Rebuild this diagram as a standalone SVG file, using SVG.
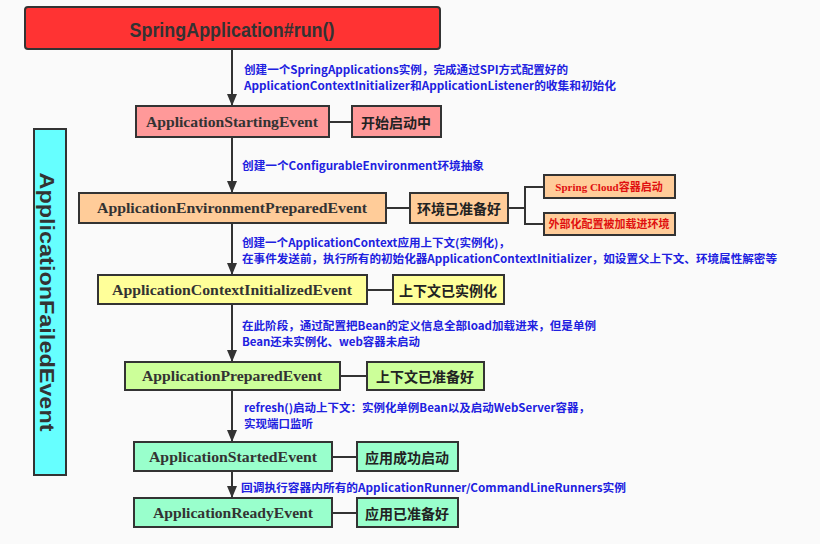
<svg xmlns="http://www.w3.org/2000/svg" width="820" height="544" viewBox="0 0 820 544">
<style>
.bg{fill:#fafafa}
.box{stroke:#333;stroke-width:2}
.ln{stroke:#333;stroke-width:2;fill:none}
.nt{font-family:"Liberation Serif","Noto Sans CJK SC",serif;font-weight:bold;font-size:14px;fill:#333;text-anchor:middle;dominant-baseline:central}
.st{font-family:"Noto Sans CJK SC","Liberation Sans",sans-serif;font-weight:bold;font-size:14px;fill:#222;text-anchor:middle;dominant-baseline:central}
.rt{font-family:"Liberation Serif","Noto Sans CJK SC",serif;font-weight:bold;font-size:11px;fill:#e01010;text-anchor:middle;dominant-baseline:central}
.an{font-family:"Noto Sans CJK SC","Liberation Sans",sans-serif;font-weight:bold;font-size:11px;fill:#2020e0;dominant-baseline:central}
</style>
<defs>
<marker id="arr" markerUnits="userSpaceOnUse" markerWidth="12" markerHeight="12" refX="12" refY="5" orient="auto">
<path d="M0,0 L12,5 L0,10 z" fill="#333"/>
</marker>
</defs>
<rect class="bg" x="0" y="0" width="820" height="544"/>

<g id="connectors">
<line class="ln" x1="232" y1="49" x2="232" y2="106" marker-end="url(#arr)"/>
<line class="ln" x1="232" y1="137" x2="232" y2="193" marker-end="url(#arr)"/>
<line class="ln" x1="232" y1="223" x2="232" y2="275" marker-end="url(#arr)"/>
<line class="ln" x1="232" y1="304" x2="232" y2="362" marker-end="url(#arr)"/>
<line class="ln" x1="232" y1="390" x2="232" y2="442" marker-end="url(#arr)"/>
<line class="ln" x1="232" y1="471" x2="232" y2="498" marker-end="url(#arr)"/>
<line class="ln" x1="329" y1="122" x2="352" y2="122"/>
<line class="ln" x1="386" y1="208" x2="410" y2="208"/>
<path class="ln" d="M508,208 H525 M544,187 H525 V224 H544"/>
<line class="ln" x1="367" y1="290" x2="393" y2="290"/>
<line class="ln" x1="340" y1="376" x2="367" y2="376"/>
<line class="ln" x1="332" y1="457" x2="357" y2="457"/>
<line class="ln" x1="332" y1="513" x2="357" y2="513"/>
</g>

<g id="run">
<rect class="box" x="25" y="7" width="415" height="42" rx="3" fill="#ff3333"/>
<text x="232" y="29" font-family="Liberation Sans, sans-serif" font-weight="bold" font-size="21" fill="#333" text-anchor="middle" dominant-baseline="central" textLength="205" lengthAdjust="spacingAndGlyphs">SpringApplication#run()</text>
</g>

<g id="failed">
<rect class="box" x="34" y="129" width="32" height="346" fill="#66ffff"/>
<text transform="translate(40,302) rotate(90)" x="0" y="0" font-family="Liberation Sans, sans-serif" font-weight="bold" font-size="21" fill="#333" text-anchor="middle" textLength="259" lengthAdjust="spacingAndGlyphs">ApplicationFailedEvent</text>
</g>

<g id="ann1">
<text class="an" x="244" y="69" textLength="324" lengthAdjust="spacingAndGlyphs">创建一个SpringApplications实例，完成通过SPI方式配置好的</text>
<text class="an" x="244" y="85" textLength="372" lengthAdjust="spacingAndGlyphs">ApplicationContextInitializer和ApplicationListener的收集和初始化</text>
</g>

<g id="starting">
<rect class="box" x="136" y="106" width="193" height="31" fill="#ff9999"/>
<text class="nt" x="232" y="122" textLength="172" lengthAdjust="spacingAndGlyphs">ApplicationStartingEvent</text>
</g>
<g id="starting-state">
<rect class="box" x="352" y="106" width="89" height="31" fill="#ff9999"/>
<text class="st" x="396" y="122">开始启动中</text>
</g>

<g id="ann2">
<text class="an" x="242" y="165" textLength="242" lengthAdjust="spacingAndGlyphs">创建一个ConfigurableEnvironment环境抽象</text>
</g>

<g id="env">
<rect class="box" x="79" y="193" width="307" height="30" fill="#ffcc99"/>
<text class="nt" x="232" y="208" textLength="270" lengthAdjust="spacingAndGlyphs">ApplicationEnvironmentPreparedEvent</text>
</g>
<g id="env-state">
<rect class="box" x="410" y="193" width="98" height="30" fill="#ffcc99"/>
<text class="st" x="459" y="208">环境已准备好</text>
</g>
<g id="cloud">
<rect class="box" x="544" y="175" width="131" height="23" fill="#ffcc99"/>
<text class="rt" x="609" y="187">Spring Cloud容器启动</text>
</g>
<g id="external">
<rect class="box" x="544" y="213" width="131" height="22" fill="#ffcc99"/>
<text class="rt" x="609" y="224" font-size="10.5">外部化配置被加载进环境</text>
</g>

<g id="ann3">
<text class="an" x="242" y="242" textLength="268" lengthAdjust="spacingAndGlyphs">创建一个ApplicationContext应用上下文(实例化)，</text>
<text class="an" x="242" y="258" textLength="535" lengthAdjust="spacingAndGlyphs">在事件发送前，执行所有的初始化器ApplicationContextInitializer，如设置父上下文、环境属性解密等</text>
</g>

<g id="context">
<rect class="box" x="98" y="275" width="269" height="29" fill="#ffff99"/>
<text class="nt" x="232" y="290" textLength="240" lengthAdjust="spacingAndGlyphs">ApplicationContextInitializedEvent</text>
</g>
<g id="context-state">
<rect class="box" x="393" y="275" width="111" height="29" fill="#ffff99"/>
<text class="st" x="448" y="290">上下文已实例化</text>
</g>

<g id="ann4">
<text class="an" x="242" y="325" textLength="354" lengthAdjust="spacingAndGlyphs">在此阶段，通过配置把Bean的定义信息全部load加载进来，但是单例</text>
<text class="an" x="242" y="341" textLength="178" lengthAdjust="spacingAndGlyphs">Bean还未实例化、web容器未启动</text>
</g>

<g id="prepared">
<rect class="box" x="125" y="362" width="215" height="28" fill="#ccff99"/>
<text class="nt" x="232" y="376" textLength="180" lengthAdjust="spacingAndGlyphs">ApplicationPreparedEvent</text>
</g>
<g id="prepared-state">
<rect class="box" x="367" y="362" width="117" height="28" fill="#ccff99"/>
<text class="st" x="425" y="376">上下文已准备好</text>
</g>

<g id="ann5">
<text class="an" x="244" y="407" textLength="346" lengthAdjust="spacingAndGlyphs">refresh()启动上下文：实例化单例Bean以及启动WebServer容器，</text>
<text class="an" x="244" y="423" textLength="69" lengthAdjust="spacingAndGlyphs">实现端口监听</text>
</g>

<g id="started">
<rect class="box" x="134" y="442" width="198" height="29" fill="#99ffcc"/>
<text class="nt" x="233" y="457" textLength="168" lengthAdjust="spacingAndGlyphs">ApplicationStartedEvent</text>
</g>
<g id="started-state">
<rect class="box" x="357" y="442" width="101" height="29" fill="#99ffcc"/>
<text class="st" x="407" y="457">应用成功启动</text>
</g>

<g id="ann6">
<text class="an" x="241" y="487" textLength="385" lengthAdjust="spacingAndGlyphs">回调执行容器内所有的ApplicationRunner/CommandLineRunners实例</text>
</g>

<g id="ready">
<rect class="box" x="134" y="498" width="198" height="29" fill="#99ffcc"/>
<text class="nt" x="233" y="513" textLength="160" lengthAdjust="spacingAndGlyphs">ApplicationReadyEvent</text>
</g>
<g id="ready-state">
<rect class="box" x="357" y="498" width="101" height="29" fill="#99ffcc"/>
<text class="st" x="407" y="513">应用已准备好</text>
</g>
</svg>
